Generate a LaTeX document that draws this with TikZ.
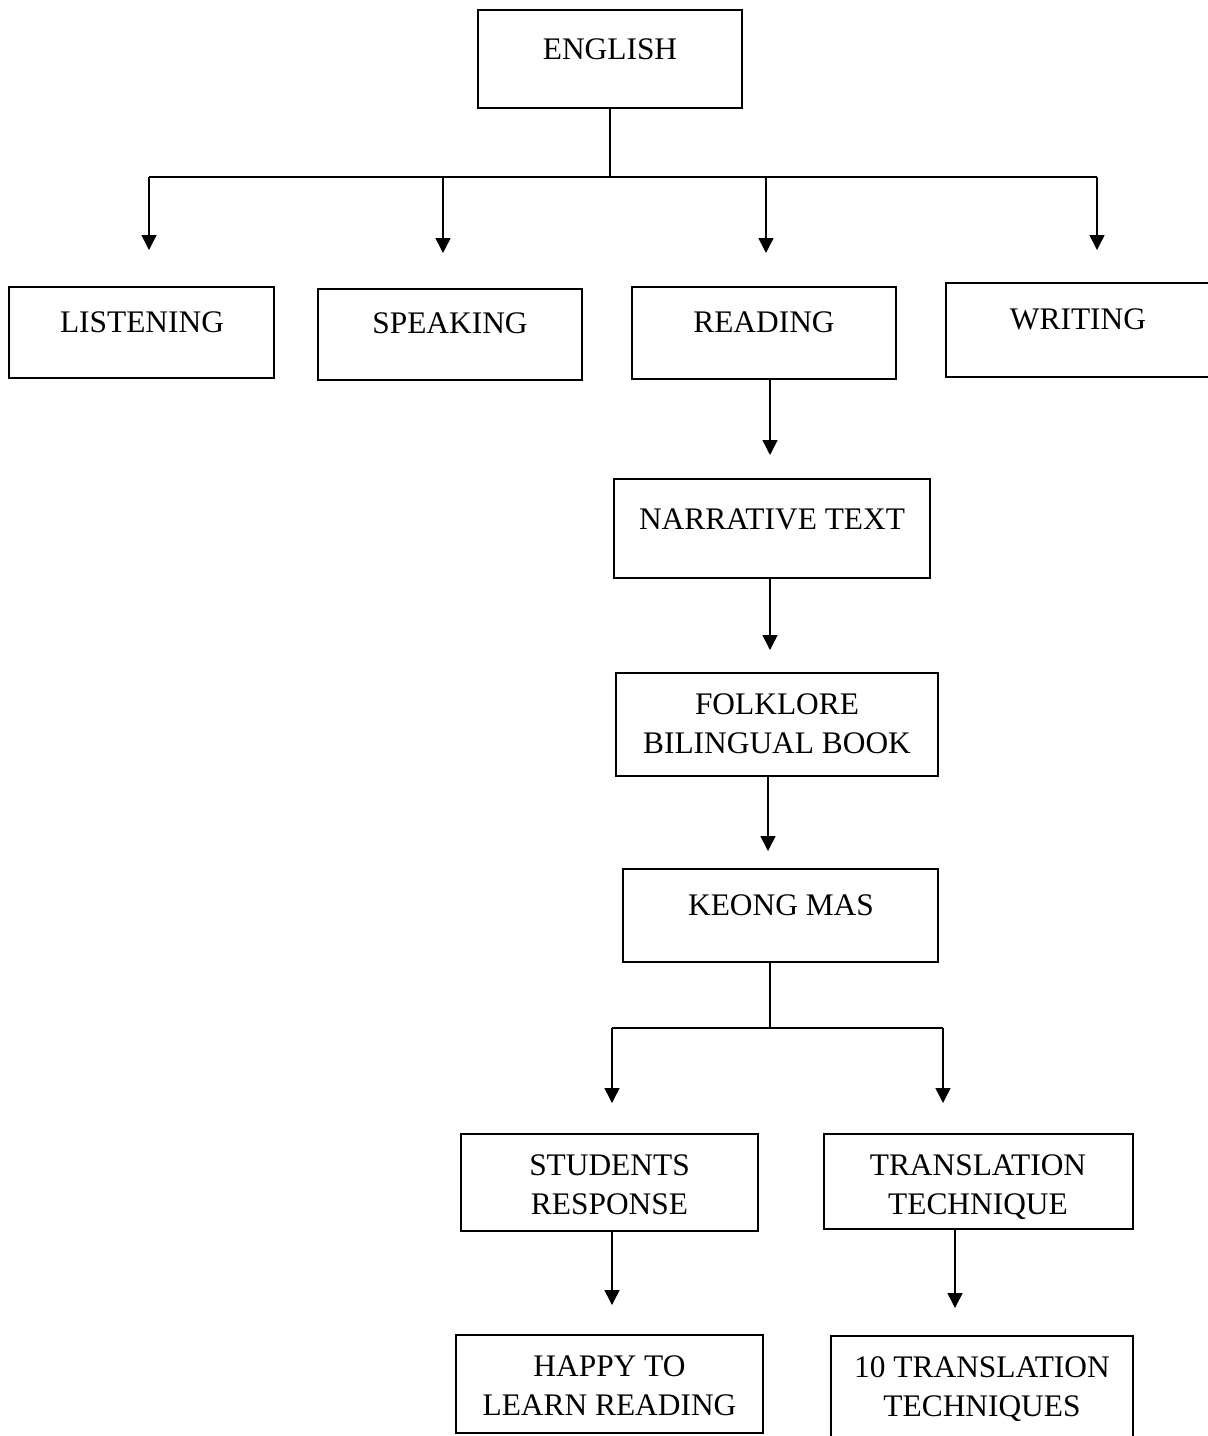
\documentclass[tikz,border=0pt]{standalone}
\usepackage{fontspec}
\setmainfont{Liberation Serif}
\usetikzlibrary{arrows.meta}
\begin{document}
\begin{tikzpicture}[x=0.5pt,y=-0.5pt,
  box/.style={draw, line width=1.35pt, inner sep=0pt, rectangle},
  lbl/.style={font=\fontsize{15.7pt}{19.5pt}\selectfont, align=center, anchor=base, inner sep=0pt},
  conn/.style={line width=0.75pt},
  arr/.style={line width=0.75pt, -{Triangle[width=7.5pt,length=7.5pt]}}]
\useasboundingbox[fill=white] (0,0) rectangle (1208,1436);

% boxes
\node[box, minimum width=132pt, minimum height=49pt] (english) at (610,59) {};
\node[box, minimum width=132.5pt, minimum height=45.5pt] (listening) at (141.5,332.5) {};
\node[box, minimum width=132pt, minimum height=45.5pt] (speaking) at (450,334.5) {};
\node[box, minimum width=132pt, minimum height=46pt] (reading) at (764,333) {};
\node[box, minimum width=133pt, minimum height=47pt] (writing) at (1079,330) {};
\node[box, minimum width=158pt, minimum height=49.5pt] (narrative) at (772,528.5) {};
\node[box, minimum width=161pt, minimum height=51.5pt] (folklore) at (777,724.5) {};
\node[box, minimum width=157.5pt, minimum height=46.5pt] (keong) at (780.5,915.5) {};
\node[box, minimum width=148.5pt, minimum height=48.5pt] (students) at (609.5,1182.5) {};
\node[box, minimum width=154.5pt, minimum height=47.5pt] (translation) at (978.5,1181.5) {};
\node[box, minimum width=153.5pt, minimum height=49pt] (happy) at (609.5,1384) {};
\node[box, minimum width=151pt, minimum height=60pt] (tentech) at (982,1396) {};

% texts (base anchor = baseline of last line)
\node[lbl] (englishT) at (610,59) {ENGLISH};
\node[lbl] (listeningT) at (142,332) {LISTENING};
\node[lbl] (speakingT) at (450,333) {SPEAKING};
\node[lbl] (readingT) at (764,332) {READING};
\node[lbl] (writingT) at (1078,329) {WRITING};
\node[lbl] (narrativeT) at (772,529) {NARRATIVE TEXT};
\node[lbl] (folkloreT) at (777,753) {FOLKLORE\\BILINGUAL BOOK};
\node[lbl] (keongT) at (781,915) {KEONG MAS};
\node[lbl] (studentsT) at (609.5,1214) {STUDENTS\\RESPONSE};
\node[lbl] (translationT) at (978,1214) {TRANSLATION\\TECHNIQUE};
\node[lbl] (happyT) at (609.5,1415) {HAPPY TO\\LEARN READING};
\node[lbl] (tentechT) at (982,1416) {10 TRANSLATION\\TECHNIQUES};

% top tree
\coordinate (busL) at (149,177);
\coordinate (busR) at (1097,177);
\coordinate (tip1) at (149,250);
\coordinate (tip2) at (443,253);
\coordinate (tip3) at (766,253);
\coordinate (tip4) at (1097,250);
\draw[conn] (english.south) -- (english.south |- busL);
\draw[conn] (busL) -- (busR);
\draw[arr] (busL) -- (tip1);
\draw[arr] (tip2 |- busL) -- (tip2);
\draw[arr] (tip3 |- busL) -- (tip3);
\draw[arr] (busR) -- (tip4);

% middle chain
\coordinate (rA) at (770,455);
\coordinate (nA) at (770,650);
\coordinate (fA) at (768,851);
\draw[arr] (reading.south -| rA) -- (rA);
\draw[arr] (narrative.south -| nA) -- (nA);
\draw[arr] (folklore.south -| fA) -- (fA);

% lower tree
\coordinate (kJ) at (770,1028);
\coordinate (kL) at (612,1028);
\coordinate (kR) at (943,1028);
\coordinate (kTipL) at (612,1103);
\coordinate (kTipR) at (943,1103);
\draw[conn] (keong.south -| kJ) -- (kJ);
\draw[conn] (kL) -- (kR);
\draw[arr] (kL) -- (kTipL);
\draw[arr] (kR) -- (kTipR);

% bottom arrows
\coordinate (sA) at (612,1305);
\coordinate (tA) at (955,1308);
\draw[arr] (students.south -| sA) -- (sA);
\draw[arr] (translation.south -| tA) -- (tA);
\end{tikzpicture}
\end{document}
